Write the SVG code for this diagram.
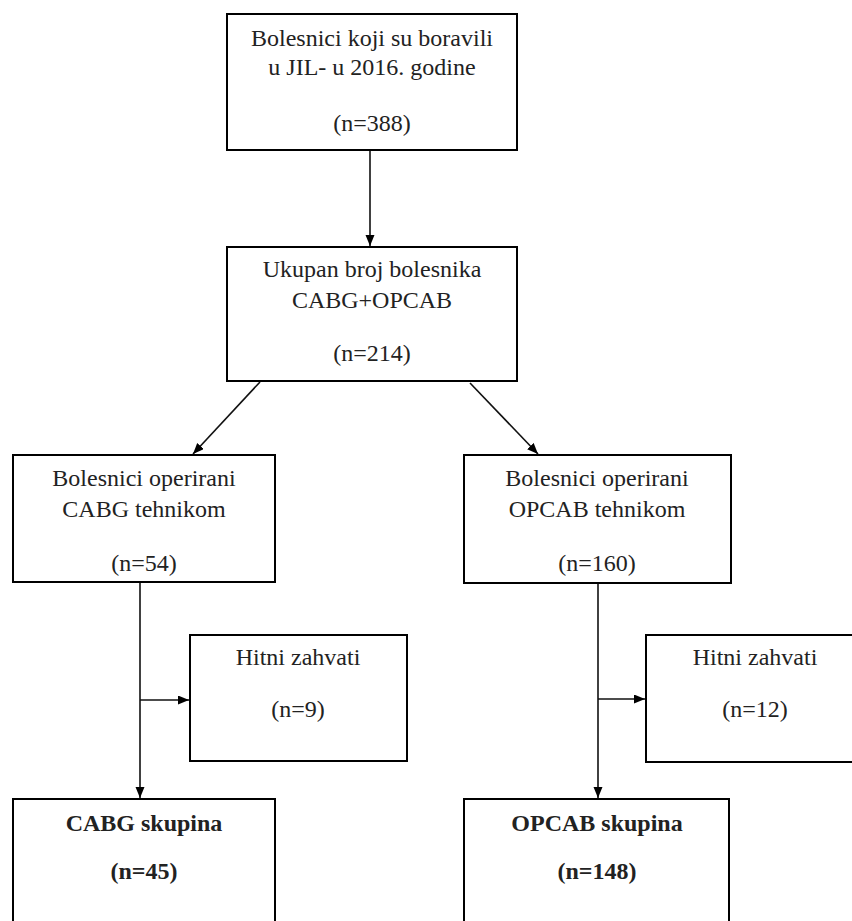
<svg xmlns="http://www.w3.org/2000/svg" width="852" height="921" viewBox="0 0 852 921">
<style>
.box{fill:#fff;stroke:#000;stroke-width:2}
.t{font-family:'Liberation Serif','Times New Roman',Tinos,'DejaVu Serif',serif;font-size:24px;fill:#222;text-anchor:middle}
.b{font-weight:bold}
.c{fill:none;stroke:#111;stroke-width:1.6}
</style>
<defs>
<marker id="ah" markerUnits="userSpaceOnUse" markerWidth="12" markerHeight="10" refX="11" refY="4.5" orient="auto">
<path d="M0,0 L11,4.5 L0,9 z" fill="#000"/>
</marker>
</defs>
<rect width="852" height="921" fill="#fff"/>
<g id="connectors">
<line class="c" x1="370" y1="150" x2="370" y2="246" marker-end="url(#ah)"/>
<line class="c" x1="260" y1="382" x2="193" y2="454" marker-end="url(#ah)"/>
<line class="c" x1="470" y1="383" x2="538" y2="454" marker-end="url(#ah)"/>
<line class="c" x1="140" y1="582" x2="140" y2="798" marker-end="url(#ah)"/>
<line class="c" x1="140" y1="700" x2="189" y2="700" marker-end="url(#ah)"/>
<line class="c" x1="598" y1="583" x2="598" y2="798" marker-end="url(#ah)"/>
<line class="c" x1="598" y1="699" x2="645" y2="699" marker-end="url(#ah)"/>
</g>
<g id="n-top">
<rect class="box" x="227" y="14" width="290" height="136"/>
<text class="t" x="372" y="46" font-family="Liberation Serif, serif">Bolesnici koji su boravili</text>
<text class="t" x="372" y="75">u JIL- u 2016. godine</text>
<text class="t" x="372" y="131">(n=388)</text>
</g>
<g id="n-total">
<rect class="box" x="227" y="247" width="290" height="134"/>
<text class="t" x="372" y="277">Ukupan broj bolesnika</text>
<text class="t" x="372" y="308">CABG+OPCAB</text>
<text class="t" x="372" y="361">(n=214)</text>
</g>
<g id="n-cabg">
<rect class="box" x="13" y="455" width="262" height="127"/>
<text class="t" x="144" y="486">Bolesnici operirani</text>
<text class="t" x="144" y="517">CABG tehnikom</text>
<text class="t" x="144" y="571">(n=54)</text>
</g>
<g id="n-opcab">
<rect class="box" x="464" y="455" width="267" height="128"/>
<text class="t" x="597" y="486">Bolesnici operirani</text>
<text class="t" x="597" y="517">OPCAB tehnikom</text>
<text class="t" x="597" y="571">(n=160)</text>
</g>
<g id="n-hitni-left">
<rect class="box" x="190" y="635" width="217" height="126"/>
<text class="t" x="298" y="665">Hitni zahvati</text>
<text class="t" x="298" y="717">(n=9)</text>
</g>
<g id="n-hitni-right">
<rect class="box" x="646" y="635" width="230" height="127"/>
<text class="t" x="755" y="665">Hitni zahvati</text>
<text class="t" x="755" y="717">(n=12)</text>
</g>
<g id="n-cabg-group">
<rect class="box" x="13" y="799" width="262" height="140"/>
<text class="t b" x="144" y="831">CABG skupina</text>
<text class="t b" x="144" y="879">(n=45)</text>
</g>
<g id="n-opcab-group">
<rect class="box" x="464" y="799" width="265" height="140"/>
<text class="t b" x="597" y="831">OPCAB skupina</text>
<text class="t b" x="597" y="879">(n=148)</text>
</g>
</svg>
